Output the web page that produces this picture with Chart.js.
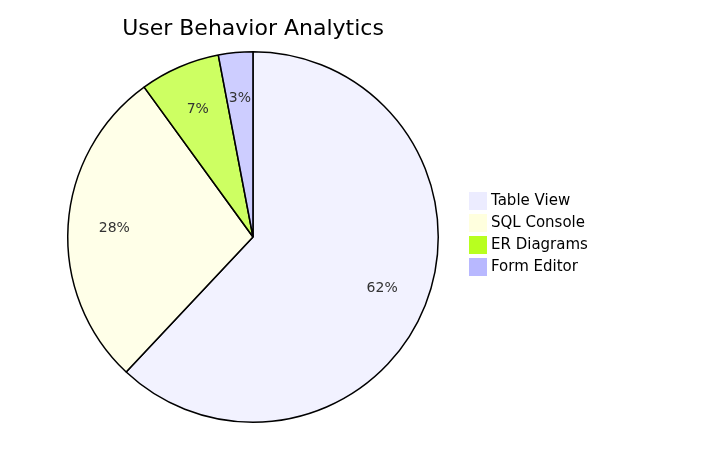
<!DOCTYPE html>
<html><head><meta charset="utf-8">
<script src="https://cdn.jsdelivr.net/npm/chart.js@4"></script>
<style>body{margin:0;background:#fff}</style>
</head><body>
<canvas id="pie" width="716" height="459"></canvas>
<script>
const labels = ['Table View','SQL Console','ER Diagrams','Form Editor'];
const values = [62, 28, 7, 3];
const sliceColors = ['rgba(236,236,255,0.7)','rgba(255,255,222,0.7)','rgba(184,255,31,0.7)','rgba(184,184,255,0.7)'];
const legendColors = ['#ECECFF','#FFFFDE','#B8FF1F','#B8B8FF'];
const FONT = '"DejaVu Sans", sans-serif';

const extras = {
  id:'extras',
  afterDraw(chart){
    const ctx = chart.ctx;
    const meta = chart.getDatasetMeta(0);
    const total = values.reduce((a,b)=>a+b,0);
    ctx.save();
    // title
    ctx.fillStyle = '#000'; ctx.font = '22px '+FONT;
    ctx.textAlign = 'center'; ctx.textBaseline = 'middle';
    ctx.fillText('User Behavior Analytics', 253, 29);
    // percentages
    ctx.font = '14px '+FONT; ctx.fillStyle = '#333';
    meta.data.forEach((arc,i)=>{
      const mid = (arc.startAngle+arc.endAngle)/2;
      const r = arc.outerRadius*0.75;
      ctx.fillText(Math.round(values[i]/total*100)+'%', arc.x+Math.cos(mid)*r, arc.y+Math.sin(mid)*r);
    });
    // legend
    ctx.textAlign = 'left';
    labels.forEach((l,i)=>{
      const y = 201 + i*22;
      ctx.fillStyle = legendColors[i];
      ctx.fillRect(469, y-9, 18, 18);
      ctx.fillStyle = '#000'; ctx.font = '15px '+FONT;
      ctx.fillText(l, 491, y);
    });
    ctx.restore();
  }
};

new Chart(document.getElementById('pie'), {
  type:'pie',
  data:{ labels, datasets:[{ data: values, backgroundColor: sliceColors, borderColor:'#000', borderWidth:1.5 }]},
  options:{
    responsive:false, animation:false,
    layout:{ padding:{ left:67, right:277, top:51, bottom:36 } },
    plugins:{ legend:{display:false}, tooltip:{enabled:false} }
  },
  plugins:[extras]
});
</script>
</body></html>
